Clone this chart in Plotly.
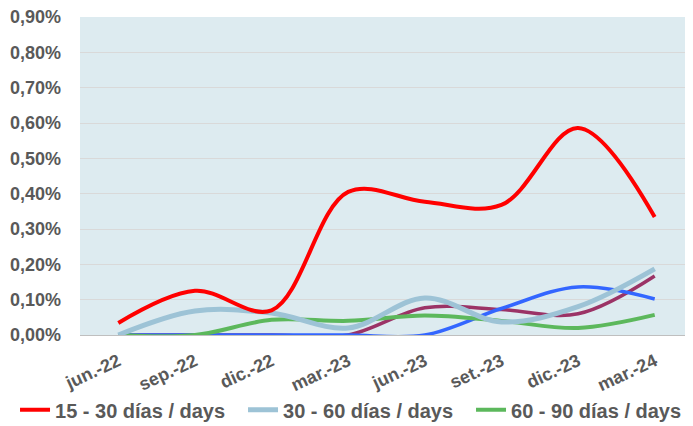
import plotly.graph_objects as go

categories = ["jun.-22", "sep.-22", "dic.-22", "mar.-23", "jun.-23", "set.-23", "dic.-23", "mar.-24"]
s15_30 = [0.034, 0.125, 0.070, 0.405, 0.377, 0.368, 0.586, 0.334]
s30_60 = [0.000, 0.068, 0.062, 0.020, 0.105, 0.037, 0.080, 0.187]
s60_90 = [0.000, 0.000, 0.043, 0.040, 0.055, 0.040, 0.020, 0.057]
s_maroon = [0.000, 0.000, 0.000, 0.000, 0.077, 0.072, 0.060, 0.167]
s_blue = [0.000, 0.000, 0.000, 0.000, 0.000, 0.075, 0.136, 0.102]
y_ticks = [0.0, 0.1, 0.2, 0.3, 0.4, 0.5, 0.6, 0.7, 0.8, 0.9]
y_labels = ["<b>" + f"{v:.2f}".replace(".", ",") + "%</b>" for v in y_ticks]
x_labels = ["<b>" + c + "</b>" for c in categories]

fig = go.Figure()
fig.add_trace(go.Scatter(x=categories, y=s_maroon, mode="lines", showlegend=False,
                         line=dict(color="#9B3366", width=3.5, shape="spline", smoothing=1)))
fig.add_trace(go.Scatter(x=categories, y=s_blue, mode="lines", showlegend=False,
                         line=dict(color="#3366FF", width=3.5, shape="spline", smoothing=1)))
fig.add_trace(go.Scatter(x=categories, y=s60_90, mode="lines", name="<b>60 - 90 días / days</b>",
                         line=dict(color="#5CB85C", width=4, shape="spline", smoothing=1)))
fig.add_trace(go.Scatter(x=categories, y=s30_60, mode="lines", name="<b>30 - 60 días / days</b>",
                         line=dict(color="#9DC3D6", width=5, shape="spline", smoothing=1)))
fig.add_trace(go.Scatter(x=categories, y=s15_30, mode="lines", name="<b>15 - 30 días / days</b>",
                         line=dict(color="#FF0000", width=4, shape="spline", smoothing=1)))

font_color = "#595959"
fam = "Liberation Sans, Arial, sans-serif"
fig.update_layout(
    width=685, height=418,
    margin=dict(l=72, r=0, t=9, b=91, autoexpand=False),
    paper_bgcolor="white",
    plot_bgcolor="#DDEBF0",
    font=dict(family=fam, color=font_color, size=16),
    showlegend=True,
    legend=dict(orientation="h", traceorder="reversed", x=-0.106, xanchor="left", y=-0.235, yanchor="middle",
                font=dict(size=20, color=font_color, family=fam),
                itemwidth=30, tracegroupgap=0, entrywidth=183, entrywidthmode="pixels",
                bgcolor="rgba(0,0,0,0)"),
    xaxis=dict(showgrid=False, tickangle=-25, tickfont=dict(size=18, color=font_color),
               tickmode="array", tickvals=categories, ticktext=x_labels, ticklabelstandoff=8,
               showline=True, linecolor="#BFBFBF", ticks="", range=[-0.5, 7.5], automargin=False),
    yaxis=dict(range=[0, 0.9], tickmode="array", tickvals=y_ticks, ticktext=y_labels,
               showgrid=True, gridcolor="#D9D9D9", gridwidth=1, zeroline=False,
               ticklabeloverflow="allow", ticklabelstandoff=18,
               tickfont=dict(size=18, color=font_color), ticks="", ticklen=0, automargin=False),
)
fig.write_html("out.html")
